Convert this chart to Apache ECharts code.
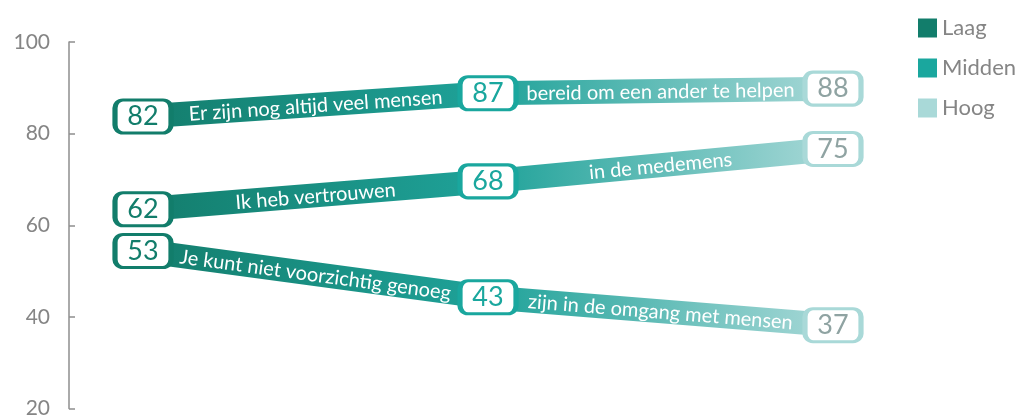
<!DOCTYPE html>
<html>
<head>
<meta charset="utf-8">
<script src="https://cdn.jsdelivr.net/npm/echarts@6/dist/echarts.min.js"></script>
<style>
html,body{margin:0;padding:0;background:#fff;}
#chart{width:1027px;height:419px;}
</style>
</head>
<body>
<div id="chart"></div>
<script>
// ---- data ----
const levels = ['Laag', 'Midden', 'Hoog'];
const levelColors = ['#127d6b', '#1aa79e', '#a9d9d8'];
const levelTextColors = ['#127d6b', '#1aa79e', '#8fa3a2'];

const helpenValues = [82, 87, 88];
const helpenSegments = ['Er zijn nog altijd veel mensen', 'bereid om een ander te helpen'];

const vertrouwenValues = [62, 68, 75];
const vertrouwenSegments = ['Ik heb vertrouwen', 'in de medemens'];

const voorzichtigValues = [53, 43, 37];
const voorzichtigSegments = ['Je kunt niet voorzichtig genoeg', 'zijn in de omgang met mensen'];

const yMin = 20, yMax = 100, yInterval = 20;

const FONT = 'Lato, "Open Sans", sans-serif';
const BOX = 'path://M8,0H48A8,8,0,0,1,56,8V25A8,8,0,0,1,48,33H8A8,8,0,0,1,0,25V8A8,8,0,0,1,8,0Z';

function statementSeries(name, values, segments) {
  return {
    name: name,
    type: 'line',
    xAxisIndex: 1,
    yAxisIndex: 1,
    z: 3,
    silent: true,
    animation: false,
    symbol: BOX,
    symbolSize: [56, 33],
    showAllSymbol: true,
    lineStyle: {
      width: 24,
      cap: 'butt',
      color: {
        type: 'linear', x: 0, y: 0, x2: 1, y2: 0,
        colorStops: [
          { offset: 0, color: '#137c6b' },
          { offset: 0.5, color: '#1fa299' },
          { offset: 1, color: '#acdad9' }
        ]
      }
    },
    data: values.map((v, i) => ({
      value: v,
      itemStyle: { color: '#fff', borderColor: levelColors[i], borderWidth: 4 },
      label: { color: levelTextColors[i] }
    })),
    label: {
      show: true,
      position: 'inside',
      fontSize: 27,
      fontFamily: FONT,
      formatter: p => String(p.value)
    },
    markLine: {
      silent: true,
      animation: false,
      symbol: ['none', 'none'],
      lineStyle: { width: 1, color: 'rgba(0,0,0,0)', type: 'solid' },
      label: {
        show: true,
        position: 'middle',
        distance: -11,
        color: '#ffffff',
        fontSize: 20,
        fontFamily: FONT,
        formatter: p => p.name
      },
      data: segments.map((t, i) => [
        { name: t, coord: [i, values[i]] },
        { coord: [i + 1, values[i + 1]] }
      ])
    }
  };
}

const legendSeries = levels.map((l, i) => ({
  name: l,
  type: 'line',
  xAxisIndex: 1,
  yAxisIndex: 1,
  color: levelColors[i],
  itemStyle: { color: levelColors[i] },
  lineStyle: { color: levelColors[i] },
  data: []
}));

const chart = echarts.init(document.getElementById('chart'), null, { renderer: 'canvas' });
chart.setOption({
  animation: false,
  backgroundColor: '#fff',
  legend: {
    data: levels,
    orient: 'vertical',
    left: 913,
    top: 12,
    icon: 'rect',
    itemWidth: 19,
    itemHeight: 19,
    itemGap: 18,
    itemStyle: { borderWidth: 0 },
    textStyle: { color: '#858585', fontSize: 22, fontFamily: FONT },
    selectedMode: false
  },
  grid: [
    { left: 69, right: 100, top: 42, bottom: 6, containLabel: false },
    { left: 143, right: 194, top: 33, bottom: 15, containLabel: false }
  ],
  xAxis: [
    { type: 'value', gridIndex: 0, show: false, min: 0, max: 1 },
    { type: 'category', gridIndex: 1, data: levels, boundaryGap: false, show: false }
  ],
  yAxis: [
    {
      type: 'value', gridIndex: 0, min: yMin, max: yMax, interval: yInterval,
      axisLine: { show: true, lineStyle: { color: '#8e8e8e', width: 1.5 } },
      axisTick: { show: true, inside: true, length: 6, lineStyle: { color: '#8e8e8e', width: 1.5 } },
      axisLabel: { color: '#858585', fontSize: 21, fontFamily: FONT, margin: 19 },
      splitLine: { show: false }
    },
    { type: 'value', gridIndex: 1, min: yMin, max: yMax, show: false }
  ],
  series: [
    statementSeries('helpen', helpenValues, helpenSegments),
    statementSeries('vertrouwen', vertrouwenValues, vertrouwenSegments),
    statementSeries('voorzichtig', voorzichtigValues, voorzichtigSegments)
  ].concat(legendSeries)
});
</script>
</body>
</html>
